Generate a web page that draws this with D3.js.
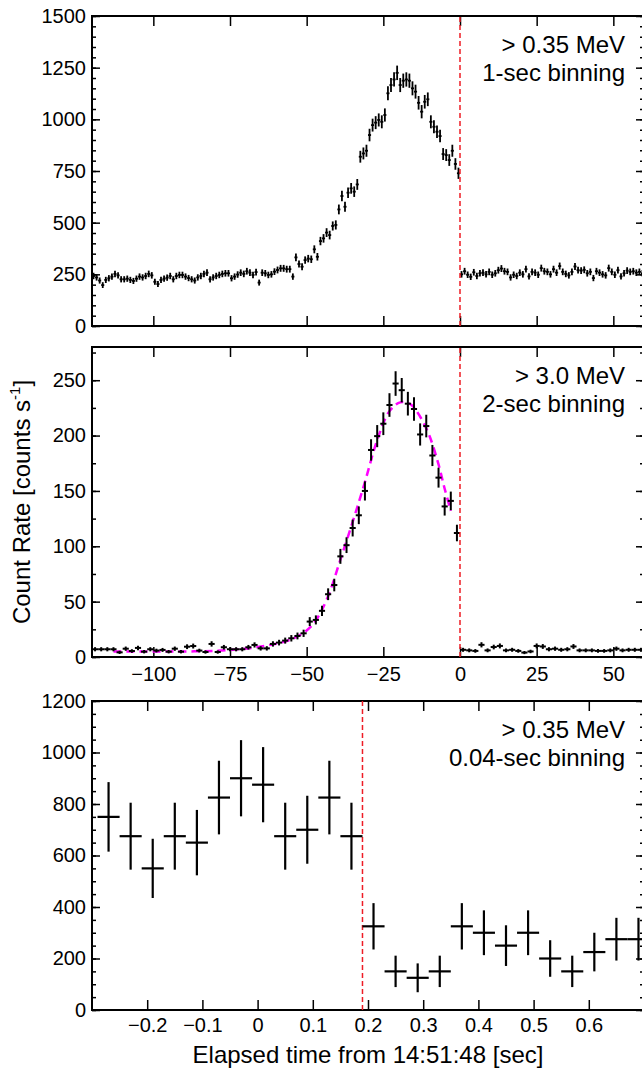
<!DOCTYPE html>
<html>
<head>
<meta charset="utf-8">
<script src="https://cdn.jsdelivr.net/npm/d3@7/dist/d3.min.js"></script>
<style>
  body { margin: 0; background: #fff; }
  svg { display: block; font-family: "Liberation Sans", Arial, Helvetica, sans-serif; }
</style>
</head>
<body>
<svg width="642" height="1073"></svg>
<script>
// ---- data ----
// top panel: > 0.35 MeV, 1-sec bins, starting at -119.5 s
const topStart = -119.5;
const topBin = 1;
const topRate = [
  242, 235, 220, 198, 223, 231, 239, 252, 245, 226,
  226, 229, 223, 218, 229, 239, 235, 242, 252, 245,
  214, 203, 223, 229, 234, 242, 226, 242, 247, 247,
  239, 232, 226, 220, 235, 242, 252, 258, 226, 235,
  242, 247, 252, 255, 255, 231, 239, 249, 258, 252,
  265, 258, 247, 261, 210, 258, 255, 247, 250, 263,
  271, 279, 279, 275, 275, 239, 332, 300, 287, 319,
  326, 323, 371, 335, 411, 424, 452, 440, 484, 489,
  564, 629, 577, 645, 666, 650, 685, 819, 835, 848,
  924, 972, 984, 997, 988, 1021, 1126, 1166, 1193, 1225,
  1166, 1187, 1193, 1187, 1150, 1134, 1080, 1037, 1085, 1097,
  988, 964, 940, 919, 832, 827, 803, 848, 784, 739,
  250, 265, 248, 238, 260, 242, 255, 258, 250, 262,
  248, 255, 270, 278, 265, 262, 235, 248, 242, 258,
  250, 275, 240, 262, 258, 248, 280, 265, 262, 250,
  275, 258, 290, 262, 252, 245, 262, 288, 270, 268,
  272, 255, 262, 232, 265, 258, 250, 245, 280, 262,
  248, 270, 240, 255, 268, 262, 265, 258, 262, 255
];

// middle panel: > 3.0 MeV, 2-sec bins, starting at -119 s
const midStart = -119;
const midBin = 2;
const midRate = [
  7, 7, 7, 7, 4.2, 7.5, 5.4, 8.2, 4.8, 7,
  5.8, 6.4, 4.8, 7.5, 4.8, 9.3, 9.9, 5.8, 4.5, 11.8,
  4.5, 8.8, 7, 7, 7, 8.8, 10.9, 7.8, 7.8, 11.8,
  13, 14.8, 16.9, 19, 21.4, 32, 33.5, 41.7, 56.7, 65,
  90.9, 101, 116.5, 128, 150, 187, 199.5, 210.7, 227.6, 247,
  241, 228.8, 224, 201, 208.6, 182, 162, 136, 141, 112,
  6.5, 6, 5.5, 11, 6, 9, 10, 6, 6.5, 5.5,
  4, 5, 10, 9.5, 7, 7.5, 6.5, 7, 9.5, 6,
  6, 6, 5.5, 5.5, 6, 7.5, 6, 6.5, 6.5, 6.5
];

// magenta fit curve
const fitTime = [-113, -100, -90, -80, -72, -66, -60, -55, -50, -47, -43, -39, -35, -31, -27, -23, -19.5, -16, -13, -10, -7, -5, -3];
const fitRate = [5, 5, 5, 5.5, 7, 9, 12, 16, 24, 33, 55, 88, 122, 158, 196, 222, 230, 228, 217, 200, 174, 152, 132];

// bottom panel: > 0.35 MeV, 0.04-sec bins
const botTime = [-0.27, -0.23, -0.19, -0.15, -0.11, -0.07, -0.03, 0.01, 0.05, 0.09, 0.13, 0.17,
  0.21, 0.25, 0.29, 0.33, 0.37, 0.41, 0.45, 0.49, 0.53, 0.57, 0.61, 0.65, 0.69];
const botRate = [750, 675, 550, 675, 650, 825, 900, 875, 675, 700, 825, 675,
  325, 150, 125, 150, 325, 300, 250, 300, 200, 150, 225, 275, 275];
const botErr = [135, 130, 115, 130, 127, 143, 148, 146, 130, 132, 143, 130,
  90, 61, 56, 61, 90, 87, 79, 87, 71, 61, 75, 83, 83];
const botBin = 0.04;

const wideTicks = [-100, -75, -50, -25, 0, 25, 50];
const fineTicks = [-0.2, -0.1, 0, 0.1, 0.2, 0.3, 0.4, 0.5, 0.6];

// ---- layout ----
const svg = d3.select("svg");
svg.append("rect").attr("width", 642).attr("height", 1073).attr("fill", "#fff");

const left = 92;
const right = 644;
const tickFont = 20;
const labelFont = 24;

function panel(cfg) {
  const x = d3.scaleLinear().domain(cfg.xDomain).range([left, right]);
  const y = d3.scaleLinear().domain(cfg.yDomain).range([cfg.bottom, cfg.top]);
  const g = svg.append("g");

  const clean = (sel) => {
    sel.select(".domain").remove();
    sel.selectAll(".tick line").attr("stroke", "#000").attr("stroke-width", 1.5);
    sel.attr("font-family", null).attr("font-size", tickFont);
    sel.selectAll("text").attr("fill", "#000");
  };

  const minors = d3.range(cfg.yDomain[0], cfg.yDomain[1] + 0.001, cfg.yMinor);

  // y axes, left with labels, right mirrored
  g.append("g").attr("transform", `translate(${left},0)`)
    .call(d3.axisLeft(y).tickValues(minors).tickSize(-4).tickFormat("")).call(clean);
  g.append("g").attr("transform", `translate(${left},0)`)
    .call(d3.axisLeft(y).tickValues(cfg.yTicks).tickSize(-8).tickPadding(6).tickFormat(d3.format("d"))).call(clean);
  g.append("g").attr("transform", `translate(${right},0)`)
    .call(d3.axisRight(y).tickValues(minors).tickSize(-4).tickFormat("")).call(clean);
  g.append("g").attr("transform", `translate(${right},0)`)
    .call(d3.axisRight(y).tickValues(cfg.yTicks).tickSize(-8).tickFormat("")).call(clean);

  // x axes
  g.append("g").attr("transform", `translate(0,${cfg.bottom})`)
    .call(d3.axisBottom(x).tickValues(cfg.xTicks).tickSize(-10).tickPadding(cfg.xPad)
      .tickFormat(cfg.xLabels ? cfg.xFormat : "")).call(clean);
  g.append("g").attr("transform", `translate(0,${cfg.top})`)
    .call(d3.axisTop(x).tickValues(cfg.xTicks).tickSize(-10).tickFormat("")).call(clean);

  // frame
  g.append("rect")
    .attr("x", left).attr("y", cfg.top)
    .attr("width", right - left).attr("height", cfg.bottom - cfg.top)
    .attr("fill", "none").attr("stroke", "#000").attr("stroke-width", 2);

  // labels in upper right corner
  const note = g.append("text")
    .attr("text-anchor", "end")
    .attr("font-size", labelFont)
    .attr("fill", "#000");
  note.append("tspan").attr("x", 625).attr("y", cfg.top + 37).text(cfg.note[0]);
  note.append("tspan").attr("x", 625).attr("y", cfg.top + 65).text(cfg.note[1]);

  return { g, x, y };
}

function errorBars(p, pts, width) {
  const grp = p.g.append("g").attr("stroke", "#000").attr("stroke-width", width);
  grp.selectAll(".ev").data(pts).enter().append("line")
    .attr("x1", (d) => p.x(d.t)).attr("x2", (d) => p.x(d.t))
    .attr("y1", (d) => p.y(d.v - d.e)).attr("y2", (d) => p.y(d.v + d.e));
  grp.selectAll(".eh").data(pts).enter().append("line")
    .attr("x1", (d) => p.x(d.t - d.h)).attr("x2", (d) => p.x(d.t + d.h))
    .attr("y1", (d) => p.y(d.v)).attr("y2", (d) => p.y(d.v));
}

function redLine(p, t) {
  p.g.append("line")
    .attr("x1", p.x(t)).attr("x2", p.x(t))
    .attr("y1", p.y.range()[0]).attr("y2", p.y.range()[1])
    .attr("stroke", "#ee1c25").attr("stroke-width", 1.5)
    .attr("stroke-dasharray", "5,3");
}

// ---- top panel ----
const pTop = panel({
  top: 16, bottom: 326,
  xDomain: [-120, 60], yDomain: [0, 1500],
  yTicks: d3.range(0, 1501, 250), yMinor: 50,
  xTicks: wideTicks, xLabels: false, xPad: 10,
  note: ["> 0.35 MeV", "1-sec binning"]
});
errorBars(pTop, topRate.map((v, i) => ({
  t: topStart + i * topBin, v: v, e: Math.sqrt(v * topBin) / topBin, h: topBin / 2
})), 1.8);
redLine(pTop, 0);

// ---- middle panel ----
const pMid = panel({
  top: 347, bottom: 657,
  xDomain: [-120, 60], yDomain: [0, 280],
  yTicks: d3.range(0, 251, 50), yMinor: 25,
  xTicks: wideTicks, xLabels: true, xPad: 10, xFormat: d3.format("d"),
  note: ["> 3.0 MeV", "2-sec binning"]
});
pMid.g.append("path")
  .datum(fitTime.map((t, i) => [t, fitRate[i]]))
  .attr("fill", "none")
  .attr("stroke", "#ff00ff")
  .attr("stroke-width", 2.5)
  .attr("stroke-dasharray", "8,5")
  .attr("d", d3.line().x((d) => pMid.x(d[0])).y((d) => pMid.y(d[1])).curve(d3.curveCatmullRom));
errorBars(pMid, midRate.map((v, i) => ({
  t: midStart + i * midBin, v: v, e: Math.sqrt(v * midBin) / midBin, h: midBin / 2
})), 2);
redLine(pMid, 0);

// ---- bottom panel ----
const pBot = panel({
  top: 701, bottom: 1010,
  xDomain: [-0.3, 0.7], yDomain: [0, 1200],
  yTicks: d3.range(0, 1201, 200), yMinor: 50,
  xTicks: fineTicks, xLabels: true, xPad: 8,
  xFormat: (d) => (d === 0 ? "0" : d3.format(".1f")(d)),
  note: ["> 0.35 MeV", "0.04-sec binning"]
});
redLine(pBot, 0.19);
errorBars(pBot, botTime.map((t, i) => ({
  t: t, v: botRate[i], e: botErr[i], h: botBin / 2
})), 2.2);

// ---- axis titles ----
svg.append("text")
  .attr("x", (left + right) / 2)
  .attr("y", 1063)
  .attr("text-anchor", "middle")
  .attr("font-size", labelFont)
  .text("Elapsed time from 14:51:48 [sec]");

const yTitle = svg.append("text")
  .attr("transform", "translate(30,502) rotate(-90)")
  .attr("text-anchor", "middle")
  .attr("font-size", labelFont);
yTitle.append("tspan").text("Count Rate [counts s");
yTitle.append("tspan").attr("font-size", 15).attr("dy", -10).text("-1");
yTitle.append("tspan").attr("dy", 10).text("]");
</script>
</body>
</html>
